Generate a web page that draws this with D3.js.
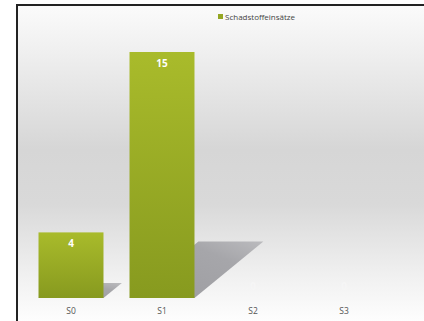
<!DOCTYPE html>
<html>
<head>
<meta charset="utf-8">
<script src="https://cdn.jsdelivr.net/npm/d3@7"></script>
<style>
  body { margin: 0; background: #fff; }
  svg { display: block; }
</style>
</head>
<body>
<div id="chart"></div>
<script>
// data
const categories = ['S0', 'S1', 'S2', 'S3'];
const values = [4, 15, 0, 0];
const seriesName = 'Schadstoffeinsätze';

const width = 424;
const height = 321;
const fontFamily = `"Open Sans", sans-serif`;

const xScale = d3.scaleBand()
    .domain(categories)
    .range([25.5, 389.5])
    .paddingInner(0.286)
    .paddingOuter(0.143);

const yScale = d3.scaleLinear()
    .domain([0, 15])
    .range([298, 52]);

const svg = d3.select('#chart')
    .append('svg')
    .attr('width', width)
    .attr('height', height);

const defs = svg.append('defs');

const bg = defs.append('linearGradient')
    .attr('id', 'bg')
    .attr('x1', 0).attr('y1', 0).attr('x2', 0).attr('y2', 1);
[[0, '#fbfbfb'], [0.15, '#efefef'], [0.45, '#d6d6d6'], [0.62, '#d9d9d9'], [0.85, '#f1f1f1'], [1, '#ffffff']]
    .forEach(s => bg.append('stop').attr('offset', s[0]).attr('stop-color', s[1]));

const barGrad = defs.append('linearGradient')
    .attr('id', 'barGrad')
    .attr('x1', 0).attr('y1', 0).attr('x2', 0).attr('y2', 1);
barGrad.append('stop').attr('offset', 0).attr('stop-color', '#a9bb2b');
barGrad.append('stop').attr('offset', 1).attr('stop-color', '#879a1f');

const shadowGrad = defs.append('linearGradient')
    .attr('id', 'shadowGrad')
    .attr('x1', 0).attr('y1', 1).attr('x2', 1).attr('y2', 0);
shadowGrad.append('stop').attr('offset', 0).attr('stop-color', '#9c9ca0');
shadowGrad.append('stop').attr('offset', 0.7).attr('stop-color', '#a6a6aa');
shadowGrad.append('stop').attr('offset', 1).attr('stop-color', '#bbbbbe');

// background + frame
svg.append('rect')
    .attr('x', 17).attr('y', 5)
    .attr('width', width).attr('height', height)
    .attr('fill', 'url(#bg)')
    .attr('stroke', '#222')
    .attr('stroke-width', 2);

const g = svg.append('g');
const rows = values.map((v, i) => ({cat: categories[i], v}));

// shadows
g.selectAll('.shadow')
    .data(rows.filter(d => d.v > 0))
    .join('path')
    .attr('class', 'shadow')
    .attr('fill', 'url(#shadowGrad)')
    .attr('d', d => {
        const x0 = xScale(d.cat);
        const x1 = x0 + xScale.bandwidth();
        const y0 = yScale(0);
        const h = y0 - yScale(d.v);
        const dx = h * 0.28;
        const dy = h * 0.23;
        return `M${x0},${y0}L${x1},${y0}L${x1 + dx},${y0 - dy}L${x0 + dx},${y0 - dy}Z`;
    });

// bars
g.selectAll('.bar')
    .data(rows)
    .join('rect')
    .attr('class', 'bar')
    .attr('x', d => xScale(d.cat))
    .attr('y', d => yScale(d.v))
    .attr('width', xScale.bandwidth())
    .attr('height', d => yScale(0) - yScale(d.v))
    .attr('fill', 'url(#barGrad)');

// value labels (zero labels sit just above the baseline, almost white)
g.selectAll('.val')
    .data(rows)
    .join('text')
    .attr('class', 'val')
    .attr('x', d => xScale(d.cat) + xScale.bandwidth() / 2)
    .attr('y', d => d.v > 0 ? yScale(d.v) + 15 : yScale(0) - 8)
    .attr('text-anchor', 'middle')
    .style('font', `bold 10px ${fontFamily}`)
    .attr('fill', d => d.v > 0 ? '#ffffff' : '#f6f6f6')
    .text(d => d.v);

// x axis
const xAxis = svg.append('g')
    .attr('transform', 'translate(0,305)')
    .call(d3.axisBottom(xScale).tickSize(0).tickPadding(3));
xAxis.select('.domain').remove();
xAxis.selectAll('.tick text')
    .style('font', `8.5px ${fontFamily}`)
    .attr('fill', '#555');

// legend
const legend = svg.append('g').attr('transform', 'translate(218,13)');
legend.append('rect')
    .attr('width', 5).attr('height', 5)
    .attr('y', 1)
    .attr('fill', '#94a623');
legend.append('text')
    .attr('x', 7).attr('y', 6.5)
    .style('font', `8px ${fontFamily}`)
    .attr('fill', '#444')
    .text(seriesName);
</script>
</body>
</html>
